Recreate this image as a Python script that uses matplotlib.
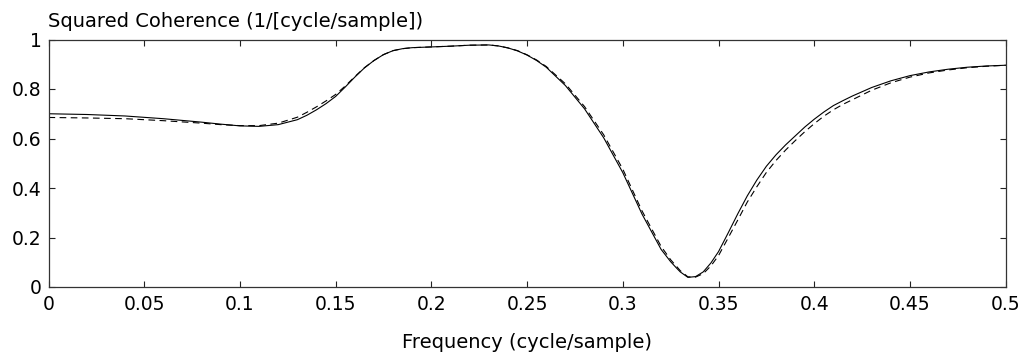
import matplotlib
matplotlib.use("Agg")
import matplotlib.pyplot as plt

# frequency grid (cycle/sample)
freq = [0.00, 0.02, 0.04, 0.06, 0.08, 0.09, 0.10, 0.11, 0.12, 0.13, 0.135, 0.14, 0.145,
        0.15, 0.155, 0.16, 0.165, 0.17, 0.175, 0.18, 0.185, 0.19, 0.20, 0.21, 0.22,
        0.23, 0.235, 0.24, 0.245, 0.25, 0.255, 0.26, 0.27, 0.28, 0.29, 0.30, 0.31,
        0.32, 0.325, 0.328, 0.33, 0.334, 0.338, 0.342, 0.346, 0.35, 0.355, 0.36,
        0.365, 0.37, 0.375, 0.38, 0.385, 0.39, 0.395, 0.40, 0.405, 0.41, 0.415,
        0.42, 0.43, 0.44, 0.45, 0.46, 0.47, 0.48, 0.49, 0.50]

# solid curve
coh_solid = [0.700, 0.697, 0.691, 0.680, 0.666, 0.658, 0.651, 0.649, 0.656, 0.676, 0.694, 0.716, 0.741,
             0.770, 0.808, 0.848, 0.885, 0.915, 0.939, 0.955, 0.963, 0.967, 0.970, 0.973, 0.977,
             0.978, 0.974, 0.966, 0.954, 0.937, 0.915, 0.888, 0.814, 0.720, 0.603, 0.462, 0.295,
             0.152, 0.102, 0.077, 0.061, 0.039, 0.042, 0.061, 0.097, 0.143, 0.218, 0.295,
             0.368, 0.432, 0.488, 0.534, 0.574, 0.610, 0.646, 0.678, 0.707, 0.733, 0.753,
             0.772, 0.806, 0.833, 0.854, 0.869, 0.880, 0.888, 0.893, 0.896]

# dashed curve
coh_dashed = [0.685, 0.683, 0.680, 0.672, 0.662, 0.656, 0.652, 0.652, 0.662, 0.686, 0.706, 0.728, 0.752,
              0.778, 0.812, 0.850, 0.886, 0.915, 0.939, 0.955, 0.963, 0.967, 0.970, 0.973, 0.977,
              0.978, 0.974, 0.966, 0.955, 0.938, 0.917, 0.891, 0.821, 0.729, 0.615, 0.476, 0.308,
              0.164, 0.110, 0.084, 0.066, 0.041, 0.040, 0.054, 0.085, 0.127, 0.198, 0.270,
              0.343, 0.405, 0.463, 0.511, 0.553, 0.591, 0.627, 0.660, 0.690, 0.716, 0.738,
              0.757, 0.795, 0.825, 0.848, 0.865, 0.877, 0.886, 0.892, 0.896]

xticks = [0, 0.05, 0.1, 0.15, 0.2, 0.25, 0.3, 0.35, 0.4, 0.45, 0.5]
xticklabels = ['0', '0.05', '0.1', '0.15', '0.2', '0.25', '0.3', '0.35', '0.4', '0.45', '0.5']
yticks = [0, 0.2, 0.4, 0.6, 0.8, 1]
yticklabels = ['0', '0.2', '0.4', '0.6', '0.8', '1']

plt.rcParams['font.family'] = ['DejaVu Sans']
plt.rcParams['font.size'] = 13.5

W, H = 1026, 355
fig = plt.figure(figsize=(W / 100, H / 100), dpi=100)
left, right, top, bottom = 48.5, 1005.7, 39.5, 287
ax = fig.add_axes([left / W, 1 - bottom / H, (right - left) / W, (bottom - top) / H])

ax.plot(freq, coh_solid, color='black', lw=0.8)
ax.plot(freq, coh_dashed, color='black', lw=0.8, ls=(0, (6, 4)))

ax.set_xlim(0, 0.5)
ax.set_ylim(0, 1)
ax.set_xticks(xticks)
ax.set_xticklabels(xticklabels)
ax.set_yticks(yticks)
ax.set_yticklabels(yticklabels)
ax.tick_params(direction='in', length=4.3, width=0.8, top=True, right=True, color='#222222')
ax.tick_params(axis='x', pad=6)
ax.tick_params(axis='y', pad=5)
for s in ax.spines.values():
    s.set_linewidth(0.9)
    s.set_color('#333333')

fig.text(left / W, 1 - 27 / H, 'Squared Coherence (1/[cycle/sample])', ha='left', va='baseline', fontsize=14)
fig.text((left + right) / 2 / W, 1 - 348 / H, 'Frequency (cycle/sample)', ha='center', va='baseline', fontsize=14)

fig.savefig('out.png', dpi=100)
